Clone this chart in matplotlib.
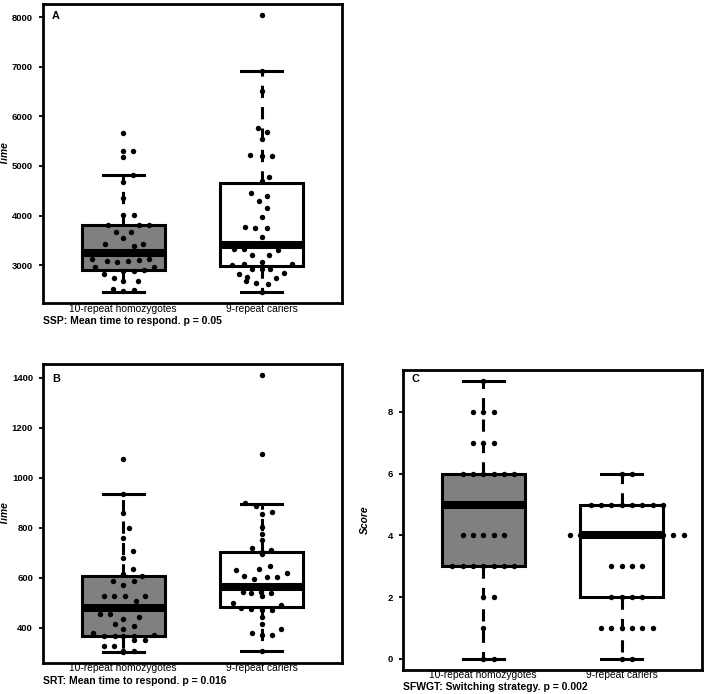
import matplotlib
matplotlib.use('Agg')
import matplotlib.pyplot as plt
import numpy as np

plt.rcParams['font.family'] = ['Liberation Sans', 'DejaVu Sans']

groups = ['10-repeat homozygotes', '9-repeat cariers']
box_colors = ['#808080', 'white']

# ---------------- Panel A: SSP mean time to respond ----------------
ssp_10_vals = [5670, 5310, 5310, 5180, 4815, 4670, 4360, 4020, 4020, 3810, 3810, 3810,
               3670, 3670, 3540, 3420, 3420, 3380, 3250, 3130, 3080, 3070, 3080, 3100,
               3130, 2960, 2970, 2890, 2890, 2900, 2830, 2750, 2680, 2680, 2520, 2480, 2490]
ssp_10_jit = [0, 0, 0.9, 0, 0.9, 0, 0, 0, 1.0, -1.5, 1.5, 2.5,
              -0.75, 0.75, 0, -1.8, 1.9, 1.0, 0, -3.0, -1.6, -0.6, 0.5, 1.5,
              2.5, -2.7, 3.0, 0, 1.0, 2.0, -1.9, -0.9, 0, 1.4, -1.0, 0, 1.0]
ssp_9_vals = [8040, 6910, 6510, 5770, 5690, 5540, 5210, 5200, 5200, 4780, 4690, 4460,
              4400, 4300, 4160, 3970, 3770, 3740, 3740, 3570, 3400, 3320, 3320, 3300,
              3200, 3200, 3070, 3000, 3030, 3030, 2920, 2920, 2930, 2830, 2840, 2770,
              2750, 2680, 2640, 2620, 2460]
ssp_9_jit = [0, 0, 0, -0.4, 0.55, 0, -1.1, 0, 1.0, 0.7, 0, -1.0,
             0.55, -0.3, 0.5, 0, -1.6, -0.65, 0.55, 0, 0, -2.7, -1.7, 1.6,
             -0.9, 0.7, 0, -2.9, -1.7, 2.9, -0.9, 0, 0.8, -2.2, 2.2, -1.4,
             1.4, -1.5, -0.6, 0.6, 0]
# whislo, q1, median, q3, whishi
ssp_10_stats = [2460, 2910, 3250, 3815, 4815]
ssp_9_stats = [2460, 2990, 3400, 4650, 6910]
ssp_yticks = [3000, 4000, 5000, 6000, 7000, 8000]

# ---------------- Panel B: SRT mean time to respond ----------------
srt_10_vals = [1075, 935, 860, 800, 761, 707, 681, 637, 617, 608, 587, 573, 587,
               527, 527, 527, 527, 507, 480, 457, 455, 444, 437, 417, 408, 397,
               380, 367, 367, 367, 367, 371, 351, 351, 328, 327, 308, 308, 304]
srt_10_jit = [0, 0, 0, 0.55, 0, 0.9, 0, 0.9, 0, 1.85, -1.0, 0, 1.0,
              -1.9, -0.9, 0.15, 2.1, 1.2, 0, -2.3, -1.3, 1.5, 0, -0.8, 1.05, 0,
              -2.9, -1.9, -0.8, 0, 1.0, 3.0, 1.0, 2.1, -1.9, -0.9, 0, 1.0, 0]
srt_9_vals = [1411, 1097, 900, 888, 857, 864, 804, 777, 751, 720, 713, 695, 704,
              631, 637, 647, 621, 607, 595, 604, 604, 565, 544, 541, 544, 541,
              527, 501, 481, 477, 470, 470, 490, 444, 417, 381, 371, 395, 371, 308]
srt_9_jit = [0, 0, -1.6, -0.6, 0, 1.0, 0, 0, 0, -0.9, 0.9, 0, 0,
             -2.5, -0.25, 0.8, 2.4, -1.7, -0.75, 0.5, 1.5, 0, -1.85, -1.0, -0.1, 0.9,
             0, -2.8, -2.0, -1.0, 0, 1.0, 1.9, 0, 0, -0.9, 1.0, 1.85, 0, 0]
srt_10_stats = [304, 368, 480, 606, 935]
srt_9_stats = [308, 484, 565, 704, 897]
srt_yticks = [400, 600, 800, 1000, 1200, 1400]

# ---------------- Panel C: SFWGT switching strategy ----------------
sfwgt_10_vals = [9, 8, 8, 8, 7, 7, 7, 6, 6, 6, 6, 6, 6, 5, 5, 5, 5, 5,
                 4, 4, 4, 4, 4, 3, 3, 3, 3, 3, 3, 3, 2, 2, 1, 0, 0]
sfwgt_9_vals = [6, 6, 5, 5, 5, 5, 5, 5, 5, 5, 4, 4, 4, 4, 4, 4, 4, 4, 4, 4, 4, 4,
                3, 3, 3, 3, 2, 2, 2, 2, 1, 1, 1, 1, 1, 1, 0, 0]
sfwgt_10_stats = [0, 3, 5, 6, 9]
sfwgt_9_stats = [0, 2, 4, 5, 6]
sfwgt_yticks = [0, 2, 4, 6, 8]

FIG_W, FIG_H = 708, 694
fig = plt.figure(figsize=(FIG_W / 100, FIG_H / 100), dpi=100)

STEP = 0.0747  # horizontal spacing of stacked points (x units)


def stack_offsets(vals):
    vals = np.asarray(vals)
    offs = np.zeros(len(vals))
    for v in np.unique(vals):
        idx = np.where(vals == v)[0]
        n = len(idx)
        offs[idx] = np.arange(n) - (n - 1) // 2
    return offs


def make_axes(x0, y0, x1, y1):
    return fig.add_axes([x0 / FIG_W, 1 - y1 / FIG_H, (x1 - x0) / FIG_W, (y1 - y0) / FIG_H])


def panel(ax, vals_list, jit_list, stats_list, yticks, letter, letter_y, ylabel,
          caption, cap_y, xpad):
    stats = []
    for s in stats_list:
        stats.append(dict(whislo=s[0], q1=s[1], med=s[2], q3=s[3], whishi=s[4], fliers=[]))
    res = ax.bxp(stats, positions=[1, 2], widths=0.6, patch_artist=True, showfliers=False,
                 capwidths=0.3,
                 boxprops=dict(linewidth=2.2, edgecolor='black'),
                 whiskerprops=dict(linewidth=2.2, linestyle=(0, (4, 3)), color='black'),
                 capprops=dict(linewidth=2.2, color='black'),
                 medianprops=dict(linewidth=5.8, color='black', solid_capstyle='butt'))
    for patch, c in zip(res['boxes'], box_colors):
        patch.set_facecolor(c)
    for i, (vals, jit) in enumerate(zip(vals_list, jit_list)):
        x = (i + 1) + np.asarray(jit) * STEP
        ax.plot(x, vals, 'o', ms=3.9, color='black', mec='none', zorder=5)
    allv = np.concatenate([np.asarray(v, float) for v in vals_list])
    lo, hi = allv.min(), allv.max()
    pad = 0.04 * (hi - lo)
    ax.set_ylim(lo - pad, hi + pad)
    ax.set_xlim(0.42, 2.58)
    ax.set_yticks(yticks)
    ax.set_yticklabels([str(t) for t in yticks], fontsize=6.8, fontweight='bold')
    ax.set_xticks([1, 2])
    ax.set_xticklabels(groups, fontsize=7.4)
    ax.tick_params(axis='x', length=0, pad=xpad)
    ax.tick_params(axis='y', length=3, width=1.3, pad=4.2)
    for sp in ax.spines.values():
        sp.set_linewidth(2.0)
    ax.set_ylabel(ylabel, fontsize=7.4, fontstyle='italic', fontweight='bold')
    ax.yaxis.set_label_coords(-0.112, 0.5)
    ax.text(0.03, letter_y, letter, transform=ax.transAxes, fontsize=7.8,
            fontweight='bold', ha='left', va='center')
    bb = ax.get_position()
    fig.text(bb.x0, 1 - cap_y / FIG_H, caption, fontsize=7.5, fontweight='bold',
             ha='left', va='center')


axA = make_axes(43, 4, 342, 303)
panel(axA, [ssp_10_vals, ssp_9_vals], [ssp_10_jit, ssp_9_jit],
      [ssp_10_stats, ssp_9_stats], ssp_yticks, 'A', 0.961, 'Time',
      'SSP: Mean time to respond. p = 0.05', 321, 0.6)

axB = make_axes(43, 364, 342, 663)
panel(axB, [srt_10_vals, srt_9_vals], [srt_10_jit, srt_9_jit],
      [srt_10_stats, srt_9_stats], srt_yticks, 'B', 0.95, 'Time',
      'SRT: Mean time to respond. p = 0.016', 681, 0.2)

axC = make_axes(403, 370, 702, 670)
panel(axC, [sfwgt_10_vals, sfwgt_9_vals],
      [stack_offsets(sfwgt_10_vals), stack_offsets(sfwgt_9_vals)],
      [sfwgt_10_stats, sfwgt_9_stats], sfwgt_yticks, 'C', 0.97, 'Score',
      'SFWGT: Switching strategy. p = 0.002', 686.5, 0.0)

fig.savefig('out.png', dpi=100)
